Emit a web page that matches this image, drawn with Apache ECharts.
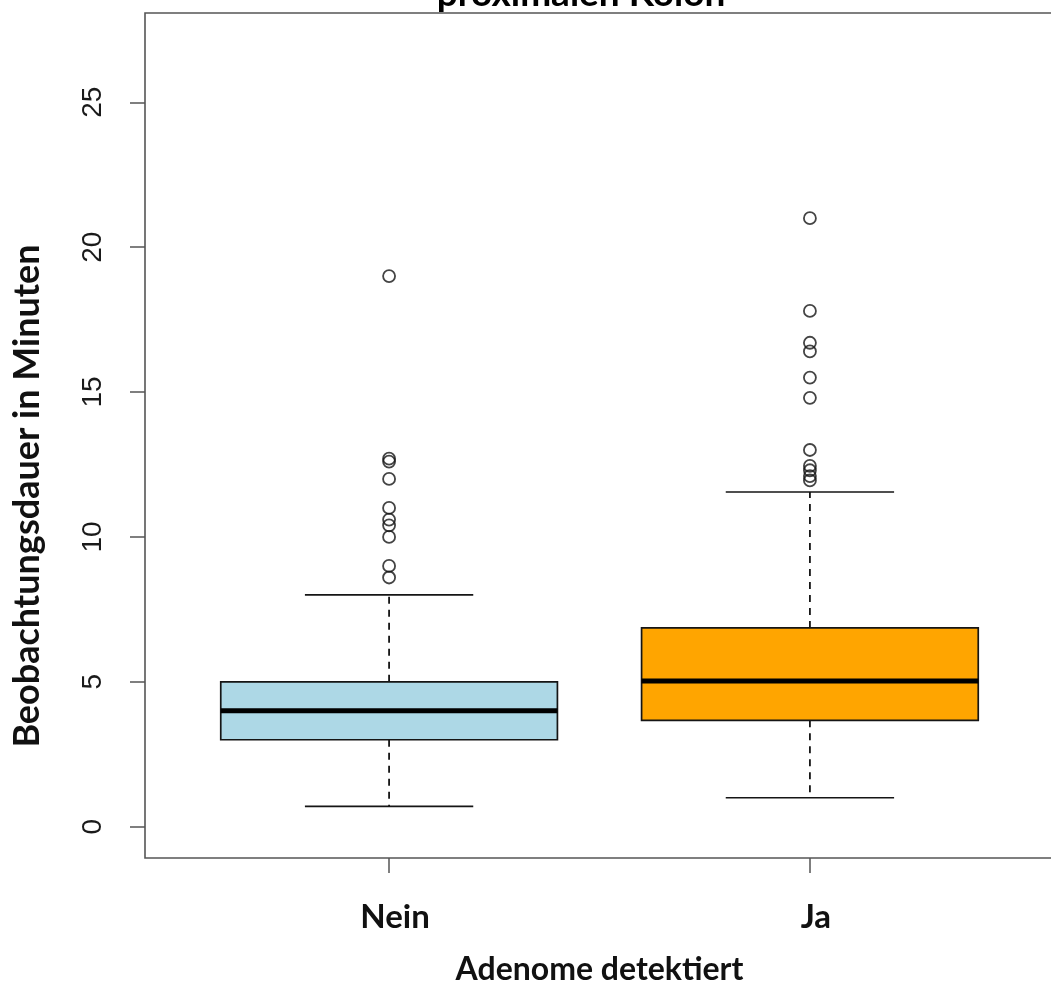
<!DOCTYPE html>
<html>
<head>
<meta charset="utf-8">
<script src="https://cdn.jsdelivr.net/npm/echarts@6/dist/echarts.min.js"></script>
<style>
html,body{margin:0;padding:0;background:#fff;overflow:hidden;}
#chart{width:1051px;height:987px;}
</style>
</head>
<body>
<div id="chart"></div>
<script>
const categories = ['Nein', 'Ja'];
const whiskerLow = [0.7, 1.0];
const q1 = [3.0, 3.67];
const medians = [4.0, 5.03];
const q3 = [5.0, 6.86];
const whiskerHigh = [8.0, 11.55];
const outliersNein = [19.0, 12.7, 12.6, 12.0, 11.0, 10.6, 10.4, 10.0, 9.0, 8.6];
const outliersJa = [21.0, 17.8, 16.7, 16.4, 15.5, 14.8, 13.0, 12.45, 12.3, 12.1, 11.95];
const yTicks = [0, 5, 10, 15, 20, 25];
const boxColors = ['#ADD8E6', '#FFA500'];

const boxData = categories.map((c, i) => [i + 1, whiskerLow[i], q1[i], medians[i], q3[i], whiskerHigh[i]]);
const outlierData = [];
[outliersNein, outliersJa].forEach((arr, i) => arr.forEach(v => outlierData.push([i + 1, v])));

const chart = echarts.init(document.getElementById('chart'), null, {renderer: 'canvas'});

function renderBox(params, api) {
  const x = api.value(0);
  const pLow = api.coord([x, api.value(1)]);
  const pQ1 = api.coord([x, api.value(2)]);
  const pMed = api.coord([x, api.value(3)]);
  const pQ3 = api.coord([x, api.value(4)]);
  const pHigh = api.coord([x, api.value(5)]);
  const half = api.size([0.4, 0])[0];
  const cap = api.size([0.2, 0])[0];
  const cx = pMed[0];
  const stroke = '#151515';
  const dashStyle = {stroke: stroke, lineWidth: 1.8, lineDash: [7, 6]};
  const solid = {stroke: stroke, lineWidth: 1.7};
  return {
    type: 'group',
    children: [
      {type: 'line', shape: {x1: cx, y1: pQ3[1], x2: cx, y2: pHigh[1]}, style: dashStyle},
      {type: 'line', shape: {x1: cx, y1: pQ1[1], x2: cx, y2: pLow[1]}, style: dashStyle},
      {type: 'line', shape: {x1: cx - cap, y1: pHigh[1], x2: cx + cap, y2: pHigh[1]}, style: solid},
      {type: 'line', shape: {x1: cx - cap, y1: pLow[1], x2: cx + cap, y2: pLow[1]}, style: solid},
      {type: 'rect', shape: {x: cx - half, y: pQ3[1], width: half * 2, height: pQ1[1] - pQ3[1]},
        style: {fill: boxColors[params.dataIndex], stroke: stroke, lineWidth: 1.7}},
      {type: 'line', shape: {x1: cx - half, y1: pMed[1], x2: cx + half, y2: pMed[1]},
        style: {stroke: '#000', lineWidth: 5}}
    ]
  };
}

chart.setOption({
  animation: false,
  backgroundColor: '#ffffff',
  grid: {left: 145, width: 909, top: 13, height: 845, containLabel: false, outerBoundsMode: 'none',
    show: true, borderColor: '#555', borderWidth: 1.6, backgroundColor: 'transparent'},
  xAxis: {
    type: 'value', min: 0.42, max: 2.58,
    name: 'Adenome detektiert', nameLocation: 'middle', nameGap: 96, nameMoveOverlap: false,
    nameTextStyle: {fontFamily: 'Lato', fontWeight: 'bold', fontSize: 32, color: '#111'},
    splitLine: {show: false},
    axisLine: {show: false, onZero: false},
    axisTick: {show: true, inside: false, length: 15, customValues: [1, 2], lineStyle: {color: '#555', width: 1.5}},
    axisLabel: {show: true, customValues: [1, 2], margin: 43, padding: [0, 0, 0, 12],
      formatter: v => categories[Math.round(v) - 1] || '',
      fontFamily: 'Lato', fontWeight: 'bold', fontSize: 33, color: '#111'}
  },
  yAxis: {
    type: 'value', min: -1.08, max: 28.08,
    splitLine: {show: false},
    axisLine: {show: false, onZero: false},
    axisTick: {show: true, inside: false, length: 15, customValues: yTicks, lineStyle: {color: '#555', width: 1.5}},
    axisLabel: {show: true, customValues: yTicks, rotate: 90, margin: 38,
      fontFamily: 'Liberation Sans', fontSize: 28, color: '#1a1a1a'}
  },
  graphic: [
    {type: 'text', x: 581, y: 13, style: {text: 'proximalen Kolon', textAlign: 'center', textVerticalAlign: 'bottom',
      font: 'bold 37px Lato', fill: '#000'}},
    {type: 'text', x: 27, y: 496, rotation: Math.PI / 2, style: {text: 'Beobachtungsdauer in Minuten', textAlign: 'center', textVerticalAlign: 'middle',
      font: 'bold 36px Lato', fill: '#111'}}
  ],
  series: [
    {type: 'custom', renderItem: renderBox, data: boxData, encode: {x: 0, y: [1, 2, 3, 4, 5]}, z: 2},
    {type: 'scatter', data: outlierData, symbol: 'circle', symbolSize: 12,
      itemStyle: {color: 'rgba(255,255,255,0)', borderColor: '#151515', borderWidth: 1.8}, z: 3}
  ]
});
</script>
</body>
</html>
